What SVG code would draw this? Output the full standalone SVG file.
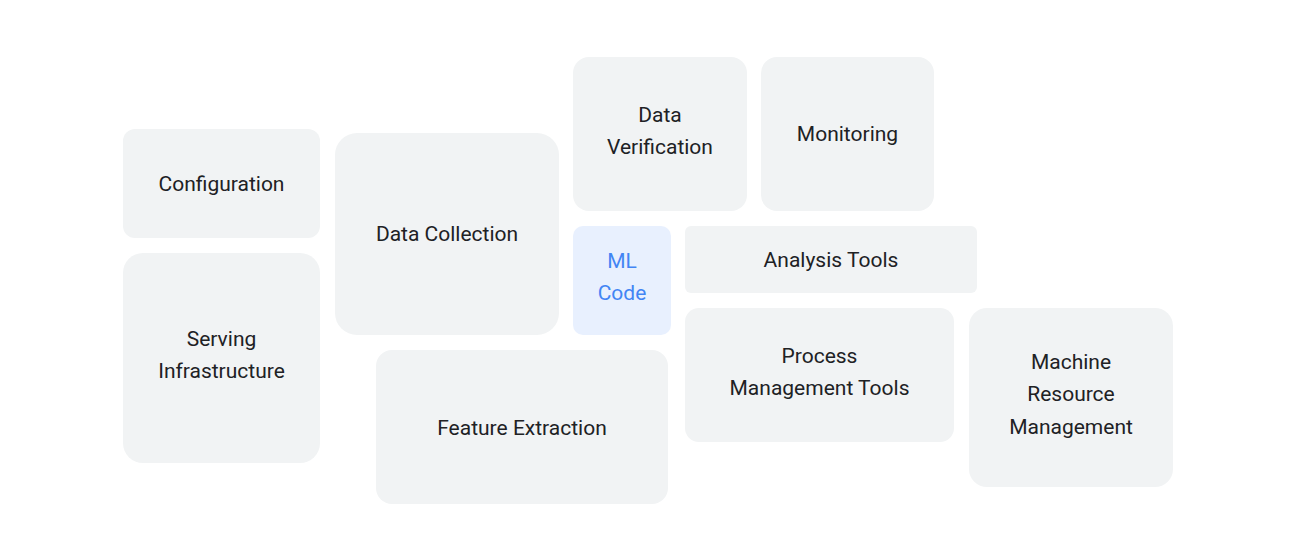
<svg xmlns="http://www.w3.org/2000/svg" width="1300" height="557" viewBox="0 0 1300 557">
<style>
.box{fill:#f1f3f4}
.ml{fill:#e8f0fe}
text{font-family:Roboto,"Liberation Sans",sans-serif;font-size:21px;fill:#202124;text-anchor:middle}
.blue{fill:#4285f4}
</style>
<rect width="1300" height="557" fill="#ffffff"/>
<g id="configuration"><rect class="box" x="123" y="129" width="197" height="109" rx="12"/><text x="221.5" y="191">Configuration</text></g>
<g id="serving-infrastructure"><rect class="box" x="123" y="253" width="197" height="210" rx="20"/><text x="221.5" y="346">Serving</text><text x="221.5" y="378">Infrastructure</text></g>
<g id="data-collection"><rect class="box" x="335" y="133" width="224" height="202" rx="22"/><text x="447" y="241">Data Collection</text></g>
<g id="feature-extraction"><rect class="box" x="376" y="350" width="292" height="154" rx="16"/><text x="522" y="435">Feature Extraction</text></g>
<g id="data-verification"><rect class="box" x="573" y="57" width="174" height="154" rx="16"/><text x="660" y="122">Data</text><text x="660" y="154">Verification</text></g>
<g id="monitoring"><rect class="box" x="761" y="57" width="173" height="154" rx="16"/><text x="847.5" y="141">Monitoring</text></g>
<g id="ml-code"><rect class="ml" x="573" y="226" width="98" height="109" rx="10"/><text class="blue" x="622" y="268">ML</text><text class="blue" x="622" y="300">Code</text></g>
<g id="analysis-tools"><rect class="box" x="685" y="226" width="292" height="67" rx="6"/><text x="831" y="267">Analysis Tools</text></g>
<g id="process-management-tools"><rect class="box" x="685" y="308" width="269" height="134" rx="14"/><text x="819.5" y="363">Process</text><text x="819.5" y="395">Management Tools</text></g>
<g id="machine-resource-management"><rect class="box" x="969" y="308" width="204" height="179" rx="18"/><text x="1071" y="369">Machine</text><text x="1071" y="401">Resource</text><text x="1071" y="434">Management</text></g>
<g id="connectors"></g>
</svg>
